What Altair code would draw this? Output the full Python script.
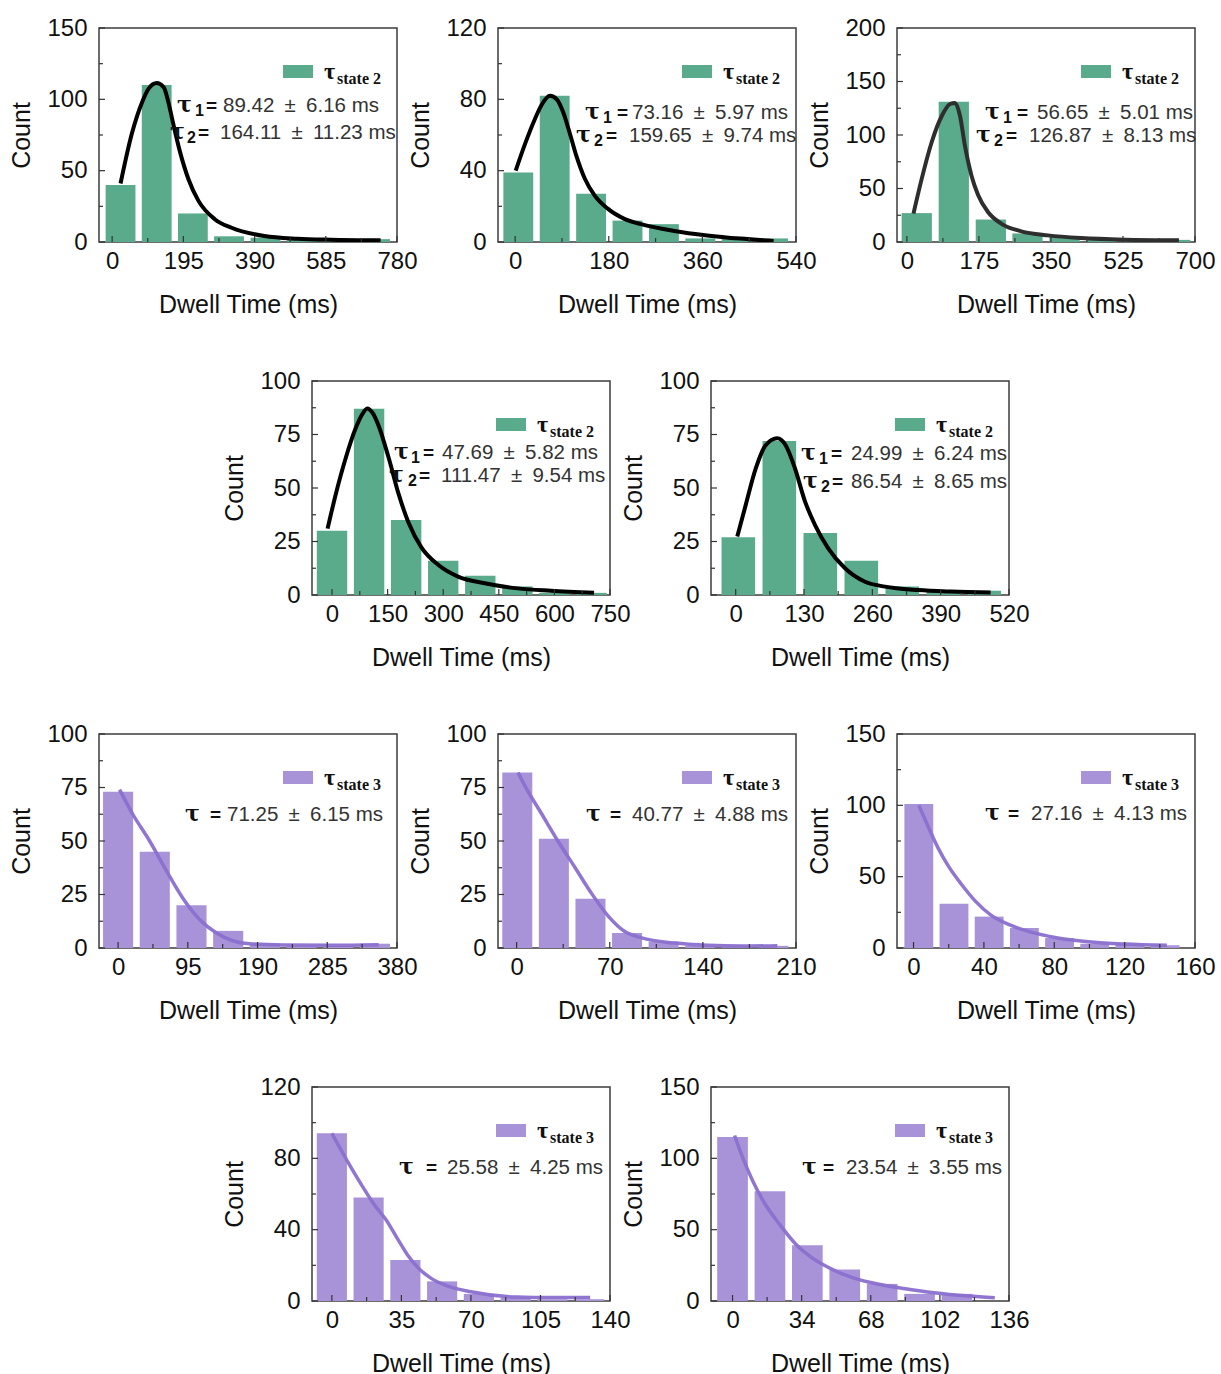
import altair as alt
import pandas as pd

# ---------------- values ----------------
# state 2 (green) panels
p1_center = [23, 122, 221, 320, 420, 520, 620, 720]
p1_count = [40, 110, 20, 4, 3, 2, 1, 2]
p1_binw = 99.6
p1_fit_x = [23, 54, 82, 100, 122, 141, 154, 168, 186, 209, 236, 281, 327, 417, 508, 599, 735]
p1_fit_y = [41, 76, 98, 107.5, 111.4, 108.6, 98, 82, 63, 44, 29, 16, 10, 4.2, 2.3, 1.6, 1.2]
p1_xdomain = [-36, 780]
p1_xticks = [0, 195, 390, 585, 780]
p1_yticks = [0, 50, 100, 150]
p1_tau = ["89.42 ± 6.16 ms", "164.11 ± 11.23 ms"]

p2_center = [6, 76, 146, 216, 286, 356, 426, 496]
p2_count = [39, 82, 27, 12, 10, 2, 2, 2]
p2_binw = 70
p2_fit_x = [1, 19, 38, 51, 67, 80, 92, 105, 118, 134, 153, 178, 210, 242, 306, 369, 433, 497]
p2_fit_y = [40, 55, 69, 77, 82, 80, 73, 61, 48, 35.5, 26, 18.7, 13, 10, 6.2, 3.7, 1.9, 0.6]
p2_xdomain = [-33, 540]
p2_xticks = [0, 180, 360, 540]
p2_yticks = [0, 40, 80, 120]
p2_tau = ["73.16 ± 5.97 ms", "159.65 ± 9.74 ms"]

p3_center = [24, 114, 204, 293, 383, 473, 562, 652]
p3_count = [27, 131, 21, 8, 5, 2, 1, 2]
p3_binw = 89.6
p3_fit_x = [16, 36, 60, 85, 105, 117, 129, 141, 157, 173, 197, 230, 278, 343, 423, 528, 661]
p3_fit_y = [26.5, 59, 93, 118, 129, 130, 118, 90, 62, 44, 28, 17, 10, 6.2, 3.7, 2.2, 1.6]
p3_xdomain = [-24, 700]
p3_xticks = [0, 175, 350, 525, 700]
p3_yticks = [0, 50, 100, 150, 200]
p3_tau = ["56.65 ± 5.01 ms", "126.87 ± 8.13 ms"]

p4_center = [0, 100, 200, 300, 400, 500, 600, 700]
p4_count = [30, 87, 35, 16, 9, 4, 1, 1]
p4_binw = 100
p4_fit_x = [-12, 10, 37, 64, 80, 95, 110, 126, 153, 180, 206, 242, 287, 340, 412, 501, 590, 707]
p4_fit_y = [31, 47, 64, 78, 84, 87.2, 85, 79, 64, 47, 34, 22, 14, 8.6, 5.5, 3.1, 2, 1.1]
p4_xdomain = [-54, 750]
p4_xticks = [0, 150, 300, 450, 600, 750]
p4_yticks = [0, 25, 50, 75, 100]
p4_tau = ["47.69 ± 5.82 ms", "111.47 ± 9.54 ms"]

p5_center = [5, 83, 161, 239, 317, 395, 473]
p5_count = [27, 72, 29, 16, 4, 2, 2]
p5_binw = 78
p5_fit_x = [3, 19, 38, 57, 79, 95, 113, 132, 151, 176, 208, 246, 284, 347, 410, 485]
p5_fit_y = [27.3, 42, 59, 70, 73.2, 70, 59, 43.6, 32.7, 21.8, 12.5, 6.2, 3.9, 2.3, 1.6, 1.2]
p5_xdomain = [-47, 520]
p5_xticks = [0, 130, 260, 390, 520]
p5_yticks = [0, 25, 50, 75, 100]
p5_tau = ["24.99 ± 6.24 ms", "86.54 ± 8.65 ms"]

# state 3 (purple) panels
p6_center = [0, 50, 100, 150, 200, 250, 300, 350]
p6_count = [73, 45, 20, 8, 2, 1, 1, 2]
p6_binw = 50
p6_fit_x = [2, 20, 43, 66, 88, 111, 134, 156, 179, 224, 292, 355]
p6_fit_y = [74, 62.5, 50, 36, 23.4, 13.3, 7, 3.4, 2, 1.4, 1.25, 1.5]
p6_xdomain = [-26, 380]
p6_xticks = [0, 95, 190, 285, 380]
p6_yticks = [0, 25, 50, 75, 100]
p6_tau = ["71.25 ± 6.15 ms"]

p7_center = [0.5, 28, 55.5, 83, 110.5, 138, 165.5, 193]
p7_count = [82, 51, 23, 7, 3, 1, 1, 1]
p7_binw = 27.5
p7_fit_x = [1, 6, 19, 31, 44, 56, 69, 81, 94, 119, 144, 169, 196]
p7_fit_y = [82, 76, 62.5, 50, 37.5, 25.8, 14.8, 7.8, 4.7, 2.3, 1.25, 0.9, 1.1]
p7_xdomain = [-14, 210]
p7_xticks = [0, 70, 140, 210]
p7_yticks = [0, 25, 50, 75, 100]
p7_tau = ["40.77 ± 4.88 ms"]

p8_center = [3, 23, 43, 63, 83, 103, 123, 143]
p8_count = [101, 31, 22, 14, 7, 3, 3, 2]
p8_binw = 20
p8_fit_x = [3, 8, 14, 20, 27, 35, 44, 54, 63, 82, 101, 120, 144]
p8_fit_y = [100, 86, 70, 57, 45, 33, 23, 16.5, 12.5, 7, 4.2, 2.8, 1.9]
p8_xdomain = [-9.4, 160]
p8_xticks = [0, 40, 80, 120, 160]
p8_yticks = [0, 50, 100, 150]
p8_tau = ["27.16 ± 4.13 ms"]

p9_center = [0, 18.5, 37, 55.5, 74, 92.5, 111, 129.5]
p9_count = [94, 58, 23, 11, 4, 2, 1, 1]
p9_binw = 18.5
p9_fit_x = [0, 7, 15, 22, 27, 33, 38, 44, 50, 58, 70, 93, 110, 130]
p9_fit_y = [94, 80, 65, 53, 46, 35, 26, 18, 12.7, 8.5, 5.2, 2.2, 1.9, 2.0]
p9_xdomain = [-10, 140]
p9_xticks = [0, 35, 70, 105, 140]
p9_yticks = [0, 40, 80, 120]
p9_tau = ["25.58 ± 4.25 ms"]

p10_center = [0, 18.4, 36.8, 55.2, 73.6, 92, 110.4]
p10_count = [115, 77, 39, 22, 12, 5, 5]
p10_binw = 18.4
p10_fit_x = [1, 5, 10, 16, 23, 31, 39, 49, 59, 72, 85, 99, 116, 129]
p10_fit_y = [116, 100.5, 84, 68, 54, 40, 30.4, 22.2, 16.4, 11.7, 8.6, 5.8, 3.5, 2.3]
p10_xdomain = [-10.6, 136]
p10_xticks = [0, 34, 68, 102, 136]
p10_yticks = [0, 50, 100, 150]
p10_tau = ["23.54 ± 3.55 ms"]

# ---------------- style / layout ----------------
W, H = 298, 214
GREEN = "#5aaa8c"
PURPLE = "#a893d8"
PURPLE_LINE = "#8a6fcf"
SANS = "Liberation Sans"
SERIF = "Liberation Serif"
TAU_FONT = "DejaVu Serif"
ONE = pd.DataFrame({"k": [0]})

# annotation placement per line: (tau_x, sub_x, eq_x, val_x, baseline)
ANN = {
    1: [(78, 96, 107, 124, 84), (71, 88, 99, 121, 111)],
    2: [(87, 105, 119, 134, 91), (78, 96, 108, 131, 114)],
    3: [(88, 106, 120, 140, 91), (79, 97, 109, 132, 114)],
    4: [(82, 99, 111, 130, 78), (77, 96, 107, 129, 101)],
    5: [(90, 108, 120, 140, 79), (92, 110, 121, 140, 107)],
    6: [(86, None, 111, 128, 87)],
    7: [(88, None, 112, 134, 87)],
    8: [(88, None, 111, 134, 86)],
    9: [(87, None, 114, 135, 87)],
    10: [(91, None, 112, 135, 87)],
}


def txt(s, x, y, size, font=SANS, weight="normal", color="#111111"):
    return alt.Chart(ONE).mark_text(
        text=s, align="left", baseline="alphabetic", font=font,
        fontSize=size, fontWeight=weight, color=color,
    ).encode(x=alt.value(x), y=alt.value(y))


def minor(ticks):
    return [(a + b) / 2 for a, b in zip(ticks[:-1], ticks[1:])]


def panel(idx, center, count, binw, fx, fy, xdom, xticks, yticks, taus, state):
    green = state == 2
    bar_color = GREEN if green else PURPLE
    line_color = ("#2e2e2e" if idx == 3 else "#000000") if green else PURPLE_LINE
    xsc = alt.Scale(domain=xdom, nice=False, zero=False)
    ysc = alt.Scale(domain=[yticks[0], yticks[-1]], nice=False, zero=False)
    xax = alt.Axis(values=xticks, title="Dwell Time (ms)", tickSize=0, domain=False, grid=False,
                   labelFlush=False, labelOverlap=False, labelPadding=7, titlePadding=19)
    yax = alt.Axis(values=yticks, title="Count", tickSize=0, domain=False, grid=False,
                   labelFlush=False, labelPadding=12, titlePadding=12)

    bars = alt.Chart(pd.DataFrame({"center": center, "count": count})).transform_calculate(
        left=f"datum.center - {binw * 0.41}", right=f"datum.center + {binw * 0.41}"
    ).mark_rect(color=bar_color, clip=True).encode(
        x=alt.X("left:Q", scale=xsc, axis=xax),
        x2="right:Q",
        y=alt.Y("count:Q", scale=ysc, axis=yax),
    )
    fit = alt.Chart(pd.DataFrame({"fx": fx, "fy": fy})).mark_line(
        color=line_color, strokeWidth=4 if green else 3.5, interpolate="monotone",
        clip=True, opacity=1 if green else 0.95,
    ).encode(x=alt.X("fx:Q", scale=xsc, axis=xax), y=alt.Y("fy:Q", scale=ysc, axis=yax))

    def xt(vals, ln):
        return alt.Chart(pd.DataFrame({"v": vals})).mark_rule(color="#333333", strokeWidth=1.2).encode(
            x=alt.X("v:Q", scale=xsc, axis=xax), y=alt.value(H), y2=alt.value(H - ln))

    def yt(vals, ln):
        return alt.Chart(pd.DataFrame({"v": vals})).mark_rule(color="#333333", strokeWidth=1.2).encode(
            y=alt.Y("v:Q", scale=ysc, axis=yax), x=alt.value(0), x2=alt.value(ln))

    layers = [bars, fit, xt(xticks, 6), xt(minor(xticks), 4), yt(yticks, 6), yt(minor(yticks), 4)]

    # legend
    layers.append(alt.Chart(ONE).mark_rect(color=bar_color).encode(
        x=alt.value(184), x2=alt.value(214), y=alt.value(37), y2=alt.value(50)))
    layers.append(txt("τ", 225, 51, 24, font=SERIF, weight="bold"))
    layers.append(txt("state " + ("2" if green else "3"), 238, 56, 16, font=SERIF, weight="bold"))

    # fitted lifetimes
    for i, (val, (tx, sx, ex, vx, by)) in enumerate(zip(taus, ANN[idx])):
        layers.append(txt("τ", tx, by, 22, font=TAU_FONT, weight="bold"))
        if sx is not None:
            layers.append(txt(str(i + 1), sx, by + 4, 16, weight="bold"))
        layers.append(txt("=", ex, by, 19, weight="bold"))
        layers.append(txt(val.replace(" ± ", "\u2002±\u2002"), vx, by, 20.5, color="#333333"))

    return alt.layer(*layers).properties(width=W, height=H)


def spacer(w):
    return alt.Chart(ONE).mark_point(opacity=0).encode(
        x=alt.X("k:Q", axis=None), y=alt.Y("k:Q", axis=None)
    ).properties(width=w, height=H, view=alt.ViewBackground(strokeOpacity=0))


P = {}
for i in range(1, 11):
    g = globals()
    P[i] = panel(i, g[f"p{i}_center"], g[f"p{i}_count"], g[f"p{i}_binw"], g[f"p{i}_fit_x"],
                 g[f"p{i}_fit_y"], g[f"p{i}_xdomain"], g[f"p{i}_xticks"], g[f"p{i}_yticks"],
                 g[f"p{i}_tau"], 2 if i <= 5 else 3)

SP = 101
row1 = alt.hconcat(P[1], P[2], P[3], spacing=SP, bounds="flush")
row2 = alt.hconcat(spacer(112), P[4], P[5], spacing=SP, bounds="flush")
row3 = alt.hconcat(P[6], P[7], P[8], spacing=SP, bounds="flush")
row4 = alt.hconcat(spacer(112), P[9], P[10], spacing=SP, bounds="flush")

chart = alt.vconcat(row1, row2, row3, row4, spacing=50).configure_axis(
    labelFont=SANS, labelFontSize=24, labelColor="#111111",
    titleFont=SANS, titleFontSize=25, titleFontWeight="normal", titleColor="#111111",
).configure_view(stroke="#3c3c3c", strokeWidth=1.5).properties(
    padding={"left": 9, "top": 15, "right": 5, "bottom": 5}, background="white"
)

chart.save("out.html", embed_options={"renderer": "svg", "actions": False})
